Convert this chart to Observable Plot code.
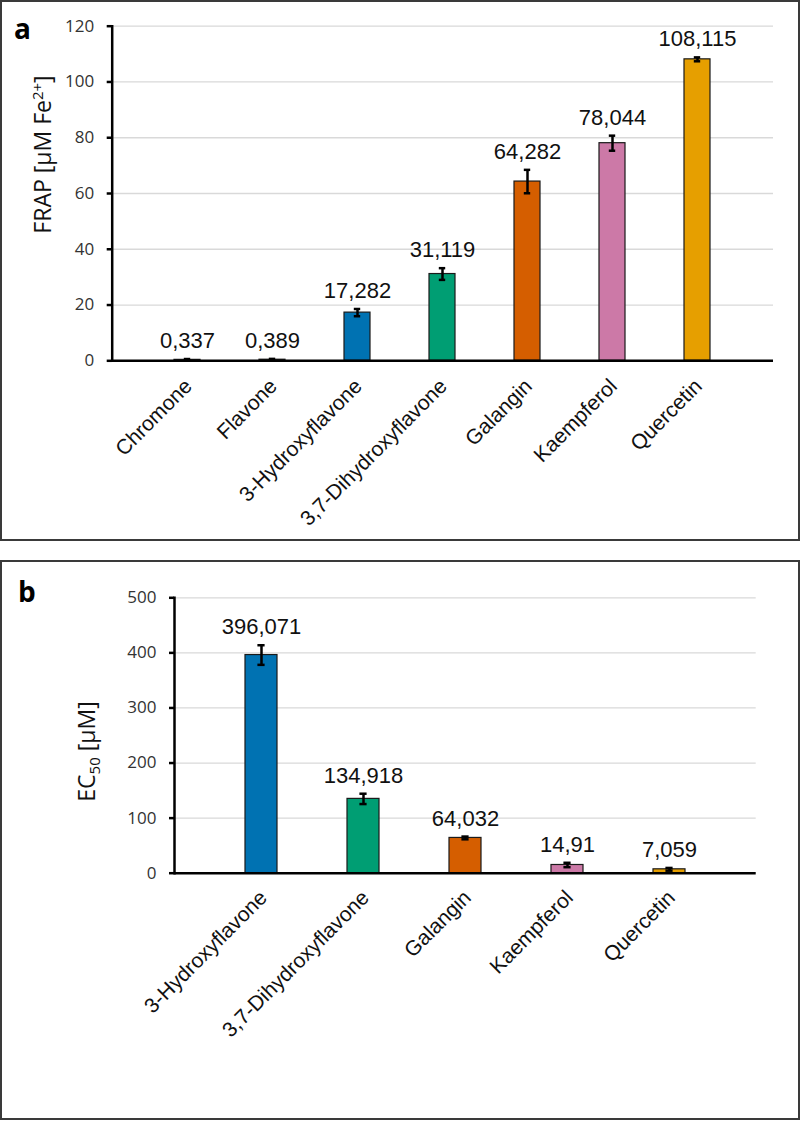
<!DOCTYPE html>
<html><head><meta charset="utf-8">
<script src="https://cdn.jsdelivr.net/npm/d3@7"></script>
<script src="https://cdn.jsdelivr.net/npm/@observablehq/plot@0.6"></script>
<style>
body{margin:0;background:#fff;}
#root{position:relative;width:800px;height:1121px;}
.panel{position:absolute;left:0;width:800px;box-sizing:border-box;border:2px solid #3a3a3a;background:#fff;}
.panel svg{display:block;}
.letter{position:absolute;font-family:"Open Sans";font-weight:700;font-size:28px;line-height:1;color:#000;}
</style></head><body>
<div id="root">
  <div id="pa" class="panel" style="top:0;height:541px;"></div>
  <div id="pb" class="panel" style="top:560px;height:560px;"></div>
  <div class="letter" style="left:14px;top:14px;">a</div>
  <div class="letter" style="left:18px;top:577px;">b</div>
</div>
<script>
// ---- data ----
const allCompounds = ["Chromone","Flavone","3-Hydroxyflavone","3,7-Dihydroxyflavone","Galangin","Kaempferol","Quercetin"];
const compoundColors = ["#7f7f7f","#7f7f7f","#0072B2","#009E73","#D55E00","#CC79A7","#E69F00"];

const frapCompounds = ["Chromone","Flavone","3-Hydroxyflavone","3,7-Dihydroxyflavone","Galangin","Kaempferol","Quercetin"];
const frapValues = [0.337, 0.389, 17.282, 31.119, 64.282, 78.044, 108.115];
const frapErrors = [0.3, 0.3, 1.3, 2.1, 4.2, 2.7, 0.7];
const frapTicks = [0, 20, 40, 60, 80, 100, 120];
const frapTitle = "FRAP [µM Fe2+]";

const ec50Compounds = ["3-Hydroxyflavone","3,7-Dihydroxyflavone","Galangin","Kaempferol","Quercetin"];
const ec50Values = [396.071, 134.918, 64.032, 14.91, 7.059];
const ec50Errors = [17.8, 9.4, 2.5, 4.0, 2.5];
const ec50Ticks = [0, 100, 200, 300, 400, 500];
const ec50Title = "EC50 [µM]";

const fmt = v => String(v).replace(".", ",");
const dataA = frapCompounds.map((c, i) => ({c, v: frapValues[i], e: frapErrors[i]}));
const dataB = ec50Compounds.map((c, i) => ({c, v: ec50Values[i], e: ec50Errors[i]}));

function panel({data, domain, ticks, yMax, title, width, height, mL, mR, mT, mB, capInset, tDx, tDy, lblPad, lblDx}) {
  return Plot.plot({
    width, height, marginLeft: mL, marginRight: mR, marginTop: mT, marginBottom: mB,
    x: {domain, padding: 0.69, align: 0.5},
    y: {domain: [0, yMax]},
    color: {domain: allCompounds, range: compoundColors},
    marks: [
      Plot.gridY(ticks, {stroke: "#d9d9d9", strokeOpacity: 1, strokeWidth: 1.3}),
      Plot.barY(data, {x: "c", y: "v", fill: "c", stroke: "#1a1a1a", strokeWidth: 1.2}),
      Plot.ruleX(data, {x: "c", y1: d => d.v - d.e, y2: d => d.v + d.e, stroke: "#000", strokeWidth: 2.5}),
      Plot.tickY(data, {x: "c", y: d => d.v + d.e, stroke: "#000", strokeWidth: 2.5, insetLeft: capInset, insetRight: capInset}),
      Plot.tickY(data, {x: "c", y: d => d.v - d.e, stroke: "#000", strokeWidth: 2.5, insetLeft: capInset, insetRight: capInset}),
      Plot.text(data, {x: "c", y: d => d.v + d.e, text: d => fmt(d.v), dy: -11, lineAnchor: "bottom",
        fontSize: 22, fontFamily: "Liberation Sans", fill: "#111", style: "letter-spacing:0.4px"}),
      Plot.ruleY([0], {stroke: "#000", strokeWidth: 2.5}),
      Plot.frame({anchor: "left", stroke: "#000", strokeWidth: 2.5}),
      Plot.axisY(ticks, {tickSize: 5, tickPadding: 13, strokeWidth: 2.5, stroke: "#000", label: null,
        fontSize: 17, fontFamily: "Open Sans", fill: "#333", tickFormat: d => String(d)}),
      Plot.axisX({tickRotate: -45, tickSize: 0, tickPadding: lblPad, dx: lblDx, textAnchor: "end", lineAnchor: "middle",
        label: null, fontSize: 21, fontFamily: "Liberation Sans", fill: "#111"}),
      Plot.text([title], {frameAnchor: "left", textAnchor: "middle", lineAnchor: "middle", rotate: -90,
        dx: tDx, dy: tDy, fontSize: 23, fontFamily: "Open Sans", fill: "#111"})
    ]
  });
}

const svgA = panel({data: dataA, domain: frapCompounds, ticks: frapTicks, yMax: 120, title: frapTitle,
  width: 796, height: 537, mL: 109.7, mR: 25, mT: 23.7, mB: 537 - 358.3, capInset: 9.8, tDx: -68.7, tDy: -39,
  lblPad: 22, lblDx: 1});
const svgB = panel({data: dataB, domain: ec50Compounds, ticks: ec50Ticks, yMax: 500, title: ec50Title,
  width: 796, height: 556, mL: 172, mR: 42.3, mT: 35.3, mB: 556 - 310.7, capInset: 12.4, tDx: -87, tDy: 16,
  lblPad: 21, lblDx: 2});

document.getElementById("pa").appendChild(svgA);
document.getElementById("pb").appendChild(svgB);

// superscript / subscript in axis titles
d3.select(svgA).selectAll("text").filter(function() { return this.textContent === frapTitle; })
  .each(function() {
    const t = d3.select(this); t.text(null);
    t.append("tspan").text("FRAP [µM Fe");
    t.append("tspan").attr("dy", "-8").attr("font-size", "15").text("2+");
    t.append("tspan").attr("dy", "8").text("]");
  });
d3.select(svgB).selectAll("text").filter(function() { return this.textContent === ec50Title; })
  .each(function() {
    const t = d3.select(this); t.text(null);
    t.append("tspan").text("EC");
    t.append("tspan").attr("dy", "5").attr("font-size", "15").text("50");
    t.append("tspan").attr("dy", "-5").text(" [µM]");
  });
</script>
</body></html>
